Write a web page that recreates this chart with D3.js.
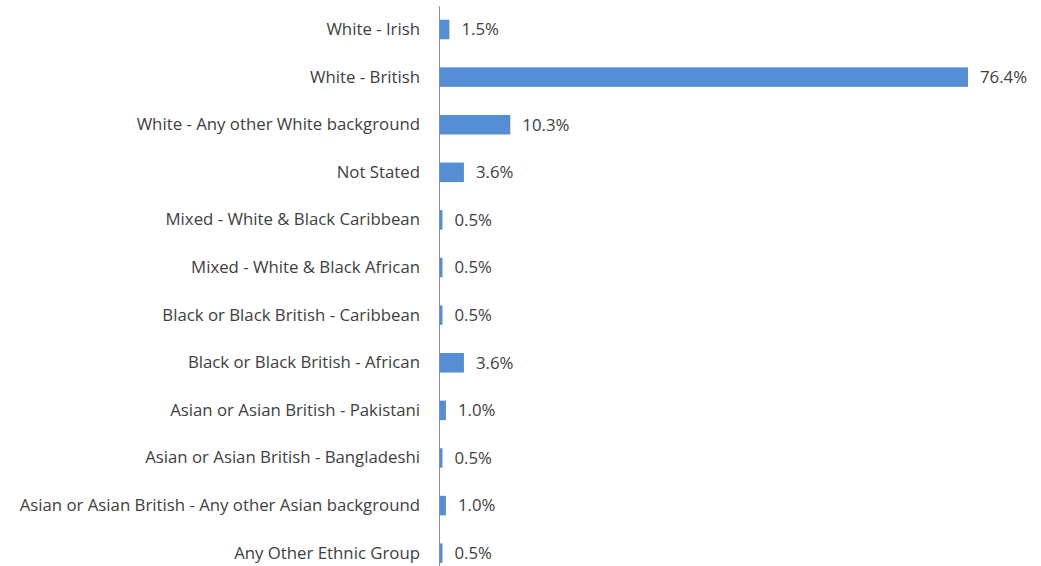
<!DOCTYPE html>
<html>
<head>
<meta charset="utf-8">
<script src="https://cdn.jsdelivr.net/npm/d3@7"></script>
<style>
  body { margin: 0; background: #fff; }
  .chart { width: 1041px; height: 566px; }
  text { font-family: "Open Sans", sans-serif; fill: #404040; }
</style>
</head>
<body>
<div class="chart"></div>
<script>
// categories top to bottom and their share (%)
const categories = [
  'White - Irish',
  'White - British',
  'White - Any other White background',
  'Not Stated',
  'Mixed - White & Black Caribbean',
  'Mixed - White & Black African',
  'Black or Black British - Caribbean',
  'Black or Black British - African',
  'Asian or Asian British - Pakistani',
  'Asian or Asian British - Bangladeshi',
  'Asian or Asian British - Any other Asian background',
  'Any Other Ethnic Group'
];
const values = [1.5, 76.4, 10.3, 3.6, 0.5, 0.5, 0.5, 3.6, 1.0, 0.5, 1.0, 0.5];

const width = d3.select('.chart').node().clientWidth;
const height = d3.select('.chart').node().clientHeight;

const svg = d3.select('.chart').append('svg')
  .attr('width', width)
  .attr('height', height)

const x0 = 439;

const x = d3.scaleLinear()
  .domain([0, 76.4])
  .range([x0, 968])

const y = d3.scaleBand()
  .domain(categories)
  .range([5.7, 577])
  .paddingInner(0.59)
  .paddingOuter(0.295)

const data = categories.map((c, i) => ({cat: c, val: values[i]}));

svg.selectAll('rect.bar')
  .data(data)
  .enter()
  .append('rect')
  .attr('class', 'bar')
  .attr('x', x0)
  .attr('y', d => y(d.cat))
  .attr('width', d => x(d.val) - x0)
  .attr('height', y.bandwidth())
  .style('fill', '#558ed5')

// value labels
svg.selectAll('text.val')
  .data(data)
  .enter()
  .append('text')
  .attr('class', 'val')
  .attr('x', d => x(d.val) + 12)
  .attr('y', d => y(d.cat) + y.bandwidth() / 2)
  .attr('dy', '0.35em')
  .style('font-size', '16.8px')
  .text(d => d.val.toFixed(1) + '%')

// category axis
const axis = svg.append('g')
  .attr('transform', `translate(${x0},0)`)
  .call(d3.axisLeft(y).tickSize(0).tickPadding(19))

axis.select('.domain')
  .attr('stroke', '#8c8c8c')
  .attr('stroke-width', 1)

axis.selectAll('text')
  .style('font-size', '16.8px')
  .style('font-family', '"Open Sans", sans-serif')
  .attr('fill', '#404040')
</script>
</body>
</html>
